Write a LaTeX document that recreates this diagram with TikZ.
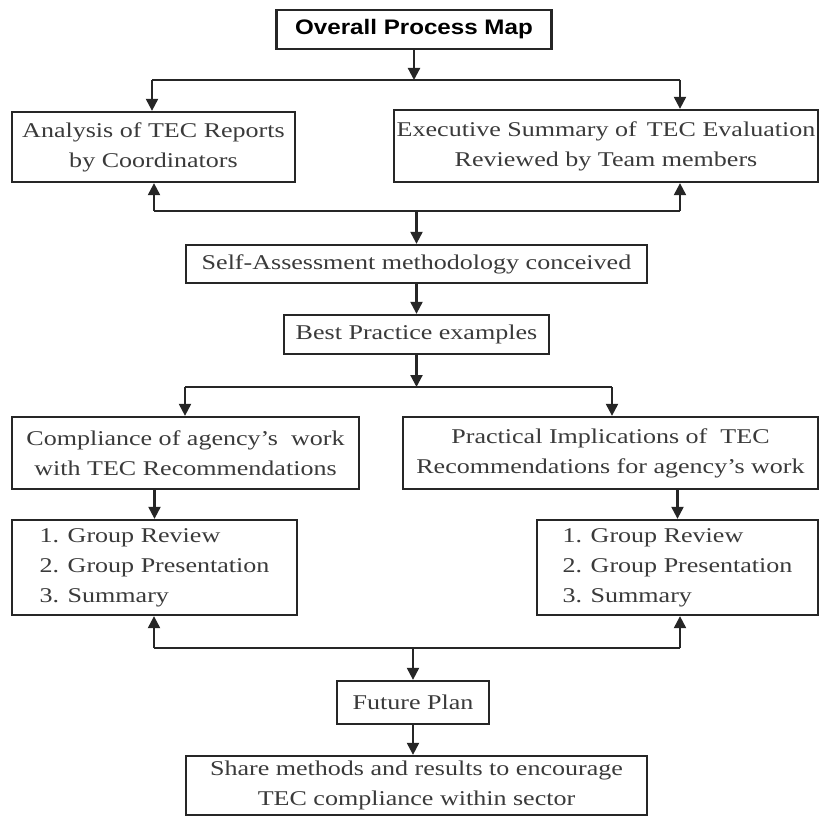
\documentclass[tikz,border=0pt]{standalone}
\usepackage{fontspec}
\setmainfont{Liberation Serif}[FakeStretch=1.24]
\newfontfamily\titlefont{Liberation Sans}[FakeStretch=1.15]
\usetikzlibrary{arrows.meta}
\definecolor{linec}{HTML}{262626}
\definecolor{textc}{HTML}{3A3A3A}
\begin{document}
\begin{tikzpicture}[x=1pt,y=-1pt,
  box/.style={draw=linec, line width=2.3pt, fill=white, inner sep=0pt, align=center,
              font=\fontsize{21}{30}\selectfont, text=textc},
  listbox/.style={box, align=left},
  arr/.style={draw=linec, line width=2.2pt, -{Triangle[width=12pt,length=12pt]}},
  ln/.style={draw=linec, line width=2.2pt}]
\useasboundingbox (0,0) rectangle (820,816);

% nodes
\node[box, minimum width=275pt, minimum height=39pt, text=black,
      font=\titlefont\bfseries\fontsize{21}{25}\selectfont] (title) at (414,29.5) {Overall Process Map};
\node[box, minimum width=283pt, minimum height=70pt] (A) at (153.5,147) {Analysis of TEC Reports\\by Coordinators};
\node[box, minimum width=424pt, minimum height=72pt] (B) at (606,146) {Executive Summary of\, TEC Evaluation\\Reviewed by Team members};
\node[box, minimum width=461pt, minimum height=38pt] (self) at (416.5,264) {Self-Assessment methodology conceived};
\node[box, minimum width=265pt, minimum height=39pt] (best) at (416.5,334.5) {Best Practice examples};
\node[box, minimum width=347pt, minimum height=72pt] (C) at (185.5,453) {Compliance of agency's\ \ work\\with TEC Recommendations};
\node[box, minimum width=415pt, minimum height=72pt] (D) at (610.5,453) {Practical Implications of\ \ TEC\\Recommendations for agency's work};
\node[listbox, minimum width=285pt, minimum height=95pt] (E) at (154.5,567.5) {1. Group Review\\2. Group Presentation\\3. Summary};
\node[listbox, minimum width=281pt, minimum height=95pt] (F) at (677.5,567.5) {1. Group Review\\2. Group Presentation\\3. Summary};
\node[box, minimum width=152pt, minimum height=43pt] (fp) at (413,702.5) {Future Plan};
\node[box, minimum width=461pt, minimum height=59pt] (share) at (416.5,785.5) {Share methods and results to encourage\\TEC compliance within sector};

% junction coordinates
\coordinate (jA) at (152,80);
\coordinate (jB) at (680,80);
\coordinate (kA) at (154,211);
\coordinate (kB) at (680,211);
\coordinate (kM) at (416.5,211);
\coordinate (mC) at (185,387);
\coordinate (mD) at (612,387);
\coordinate (nE) at (154,648);
\coordinate (nF) at (680,648);
\coordinate (nM) at (413,648);

% top distribution
\draw[arr] (title.south) -- (title.south |- jA);
\draw[ln] (jA) -- (jB);
\draw[arr] (jA) -- (jA |- A.north);
\draw[arr] (jB) -- (jB |- B.north);

% feedback to A and B, down to self
\draw[ln] (kA) -- (kB);
\draw[arr] (kA) -- (kA |- A.south);
\draw[arr] (kB) -- (kB |- B.south);
\draw[arr] (kM) -- (self.north);

\draw[arr] (self.south) -- (best.north);

% split to C and D
\draw[arr] (best.south) -- (best.south |- mC);
\draw[ln] (mC) -- (mD);
\draw[arr] (mC) -- (mC |- C.north);
\draw[arr] (mD) -- (mD |- D.north);

\draw[arr] (E.north |- C.south) -- (E.north);
\draw[arr] (F.north |- D.south) -- (F.north);

% bottom merge
\draw[ln] (nE) -- (nF);
\draw[arr] (nE) -- (nE |- E.south);
\draw[arr] (nF) -- (nF |- F.south);
\draw[arr] (nM) -- (fp.north);
\draw[arr] (fp.south) -- (fp.south |- share.north);
\end{tikzpicture}
\end{document}
